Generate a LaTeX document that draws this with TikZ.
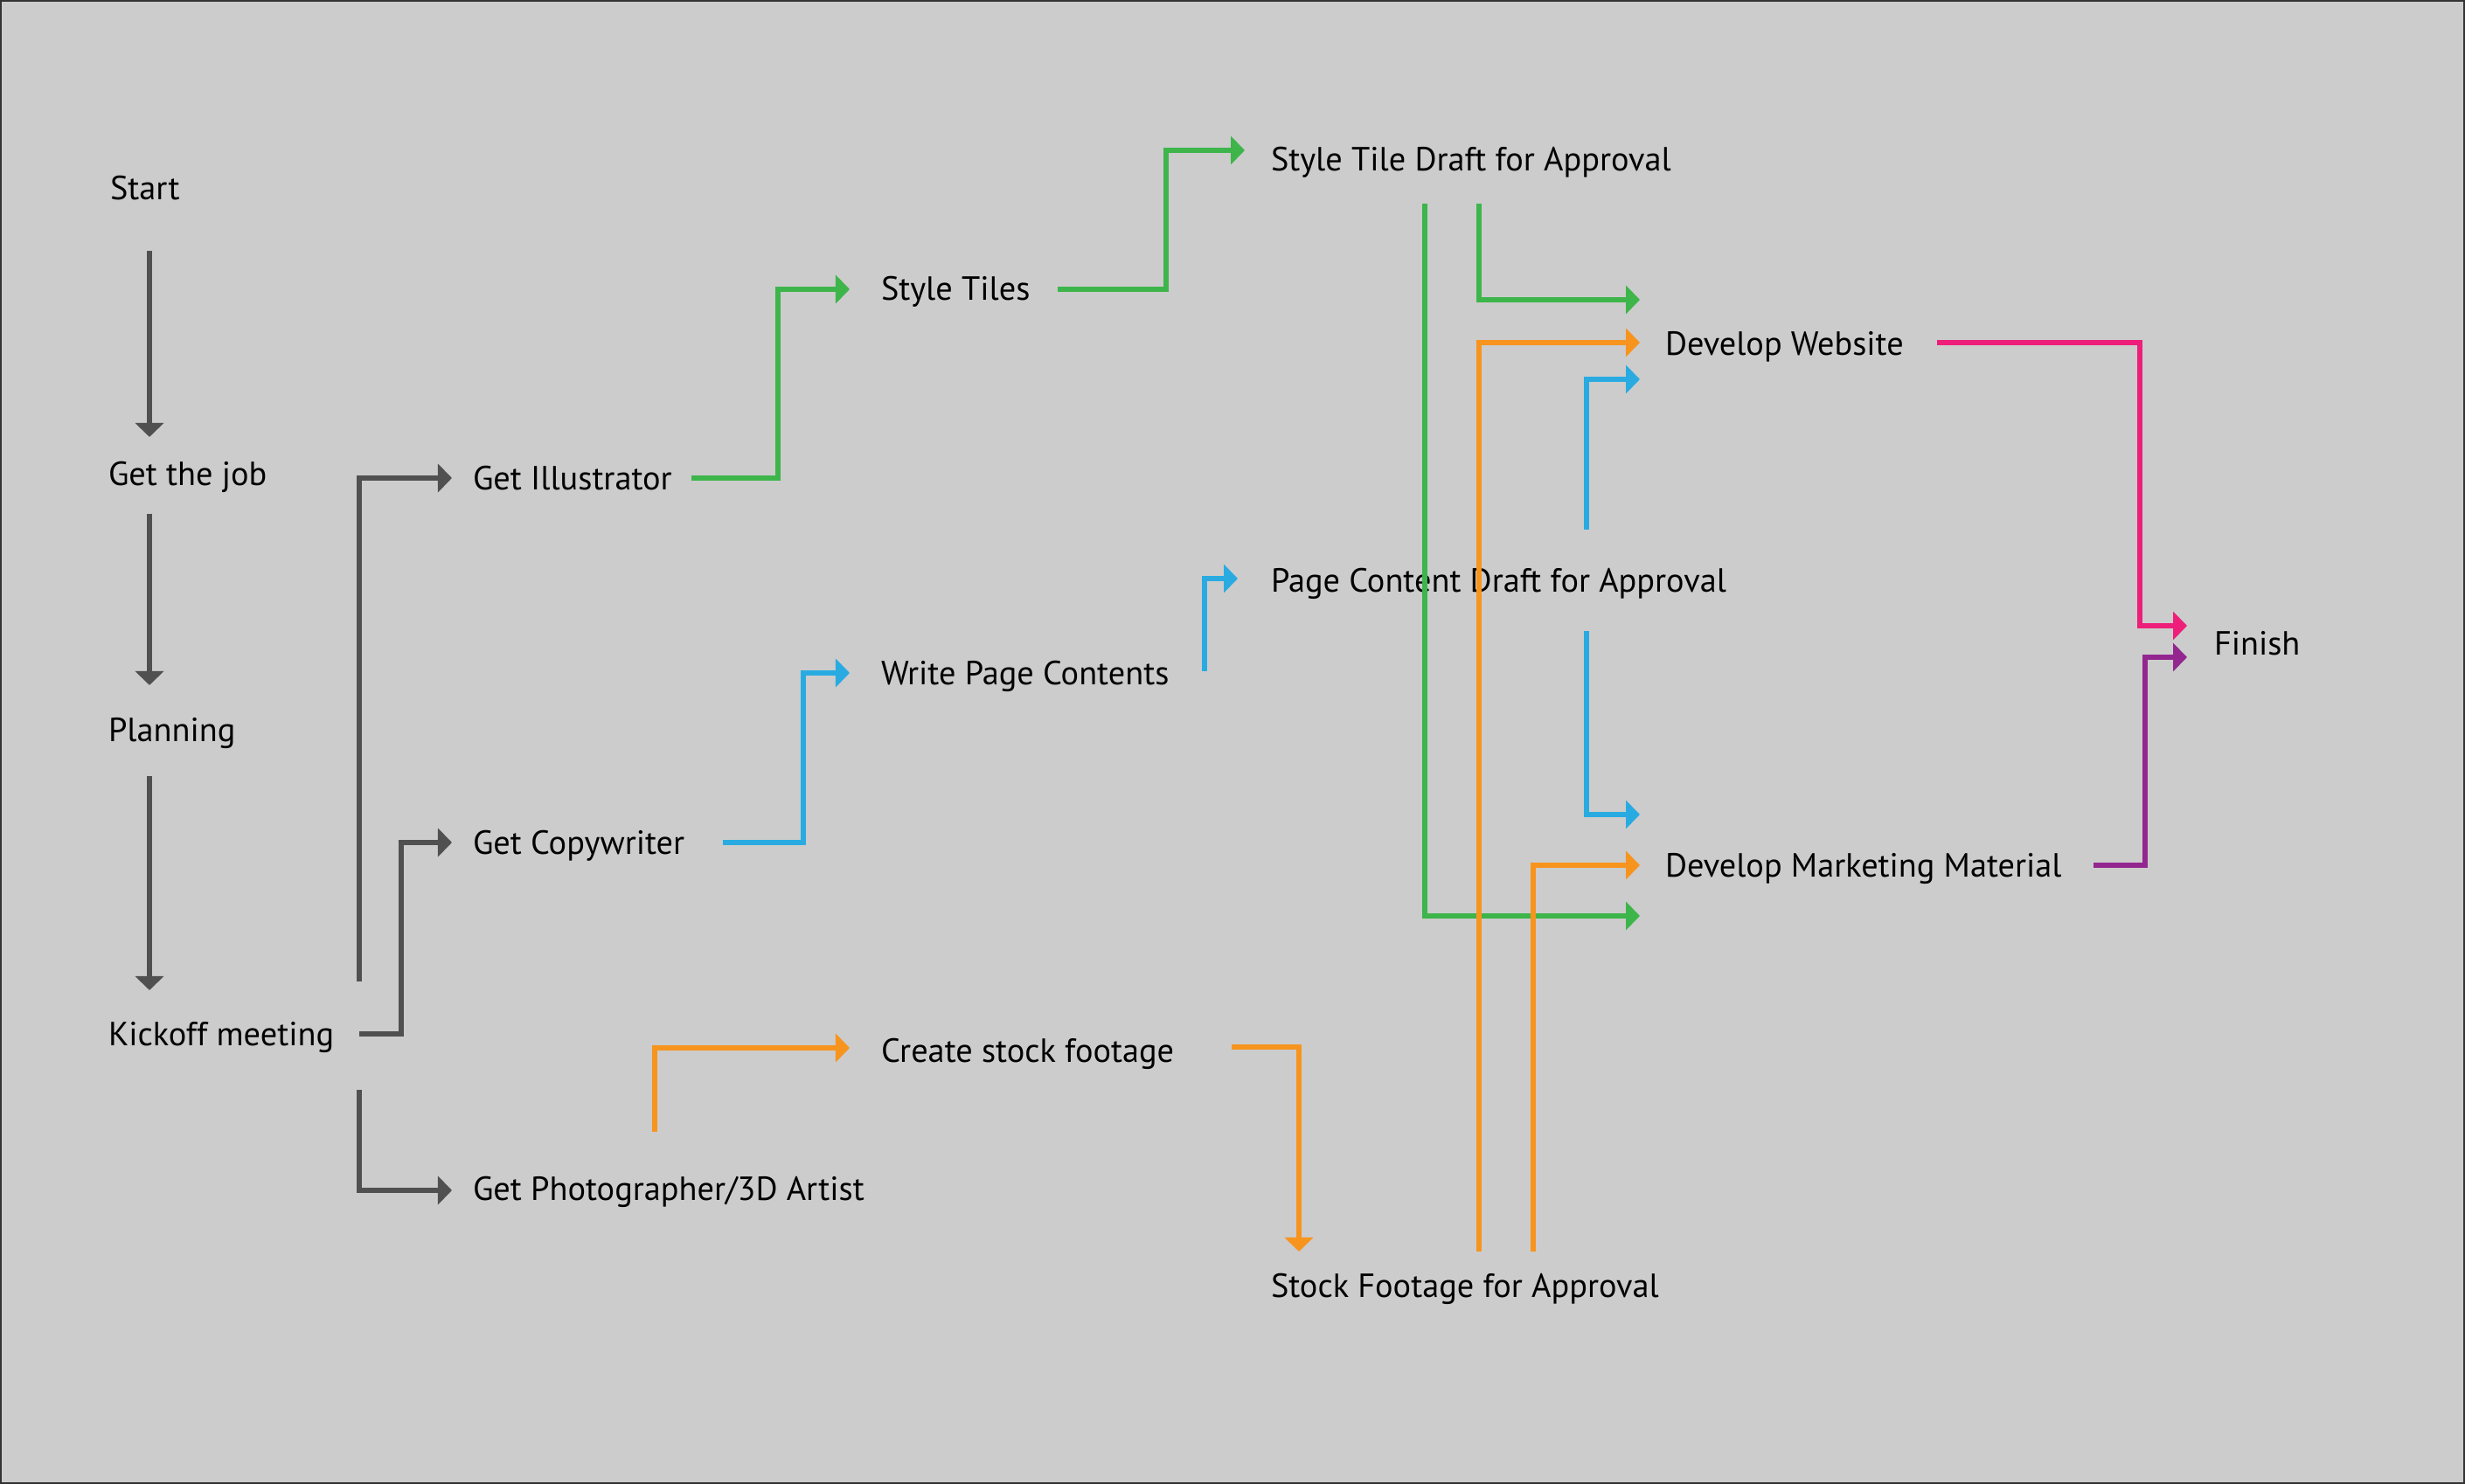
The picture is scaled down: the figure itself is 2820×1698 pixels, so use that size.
\documentclass[tikz,border=0pt]{standalone}
\usepackage{fontspec}
\setmainfont{PT Sans}
\usetikzlibrary{arrows.meta}
\usetikzlibrary{calc}

\definecolor{bg}{HTML}{CCCCCC}
\definecolor{frame}{HTML}{333333}
\definecolor{flowgray}{HTML}{505050}
\definecolor{flowgreen}{HTML}{3DB54A}
\definecolor{flowblue}{HTML}{29ABE2}
\definecolor{floworange}{HTML}{F7941E}
\definecolor{flowpink}{HTML}{EE1F7A}
\definecolor{flowpurple}{HTML}{93278F}

\begin{document}
\begin{tikzpicture}[x=0.01cm, y=-0.01cm]

\tikzstyle{task}=[anchor=west, inner sep=0pt, outer sep=0pt, text height=0.268cm, text depth=0pt, font=\fontsize{10.9}{13}\selectfont]
\tikzstyle{flow}=[draw, line width=0.06cm, -{Triangle[length=0.16cm, width=0.32cm]}]

\useasboundingbox (0,0) rectangle (2820,1698);
\fill[bg] (0,0) rectangle (2820,1698);
\draw[frame, line width=0.02cm] (1,1) rectangle (2819,1697);

\node[task] (start) at (126,215) {Start};
\node[task] (job) at (124,542) {Get the job};
\node[task] (plan) at (124,835) {Planning};
\node[task] (kick) at (124,1183) {Kickoff meeting};

\node[task] (illus) at (541,547) {Get Illustrator};
\node[task] (copy) at (541,964) {Get Copywriter};
\node[task] (photo) at (541,1360) {Get Photographer/3D Artist};

\node[task] (tiles) at (1008,330) {Style Tiles};
\node[task] (write) at (1008,770) {Write Page Contents};
\node[task] (create) at (1008,1202) {Create stock footage};

\node[task] (tdraft) at (1454,182) {Style Tile Draft for Approval};
\node[task] (pdraft) at (1454,664) {Page Content Draft for Approval};
\node[task] (sdraft) at (1454,1471) {Stock Footage for Approval};

\node[task] (web) at (1905,393) {Develop Website};
\node[task] (mkt) at (1905,990) {Develop Marketing Material};
\node[task] (finish) at (2533,736) {Finish};

% left column
\path[flow, flowgray] ($(start.west)+(45,72)$) -- ($(job.west)+(47,-42)$);
\path[flow, flowgray] ($(job.west)+(47,46)$) -- ($(plan.west)+(47,-51)$);
\path[flow, flowgray] ($(plan.west)+(47,53)$) -- ($(kick.west)+(47,-50)$);

\path[flow, flowgray] ($(kick.west)+(287,-60)$) |- ($(illus.west)+(-24,0)$);
\path[flow, flowgray] ($(kick.west)+(287,0)$) -- ++(48,0) |- ($(copy.west)+(-24,0)$);
\path[flow, flowgray] ($(kick.west)+(287,64)$) |- ($(photo.west)+(-24,2)$);

% style tiles
\path[flow, flowgreen] ($(illus.west)+(250,0)$) -- ++(99,0) |- ($(tiles.west)+(-36,1)$);
\path[flow, flowgreen] ($(tiles.west)+(202,1)$) -- ++(124,0) |- ($(tdraft.west)+(-30,-10)$);
\path[flow, flowgreen] ($(tdraft.west)+(238,51)$) |- ($(web.west)+(-29,-50)$);
\path[flow, flowgreen] ($(tdraft.west)+(176,51)$) |- ($(mkt.west)+(-29,58)$);

% page contents
\path[flow, flowblue] ($(copy.west)+(286,0)$) -- ++(92,0) |- ($(write.west)+(-36,0)$);
\path[flow, flowblue] ($(write.west)+(370,-2)$) |- ($(pdraft.west)+(-38,-2)$);
\path[flow, flowblue] ($(pdraft.west)+(361,-58)$) |- ($(web.west)+(-29,41)$);
\path[flow, flowblue] ($(pdraft.west)+(361,58)$) |- ($(mkt.west)+(-29,-58)$);

% stock footage
\path[flow, floworange] ($(photo.west)+(208,-65)$) |- ($(create.west)+(-36,-3)$);
\path[flow, floworange] ($(create.west)+(401,-4)$) -| ($(sdraft.west)+(32,-39)$);
\path[flow, floworange] ($(sdraft.west)+(238,-39)$) |- ($(web.west)+(-29,-1)$);
\path[flow, floworange] ($(sdraft.west)+(300,-39)$) |- ($(mkt.west)+(-29,0)$);

% finish
\path[flow, flowpink] ($(web.west)+(311,-1)$) -- ++(232,0) |- ($(finish.west)+(-31,-20)$);
\path[flow, flowpurple] ($(mkt.west)+(490,0)$) -- ++(59,0) |- ($(finish.west)+(-31,16)$);

\end{tikzpicture}
\end{document}
